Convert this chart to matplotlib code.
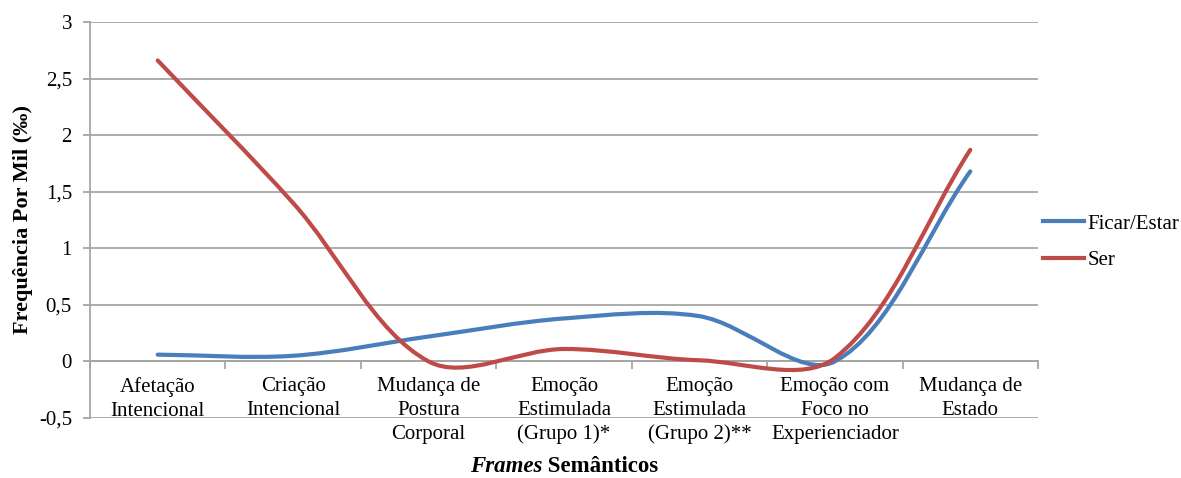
import matplotlib
matplotlib.use("Agg")
import matplotlib.pyplot as plt
import numpy as np
from matplotlib.path import Path
from matplotlib.patches import PathPatch
from matplotlib.lines import Line2D

plt.rcParams['font.family'] = ['Liberation Serif', 'DejaVu Serif']

# Data
categories = ['Afetação\nIntencional', 'Criação\nIntencional', 'Mudança de\nPostura\nCorporal',
              'Emoção\nEstimulada\n(Grupo 1)*', 'Emoção\nEstimulada\n(Grupo 2)**',
              'Emoção com\nFoco no\nExperienciador', 'Mudança de\nEstado']
ficar_estar = [0.06, 0.05, 0.22, 0.38, 0.40, 0.0, 1.68]
ser = [2.66, 1.40, 0.0, 0.11, 0.01, 0.03, 1.87]

blue = '#4A7EBB'
red = '#BE4B48'
grid_color = '#A6A6A6'

W, H = 1181, 478
X0, X1, Y0, Y1 = 90, 1038, 22, 418   # plot area in pixels


def smooth_path(xs, ys, sx, sy):
    # Excel-like smoothed line: cubic bezier, tangents scaled by chord lengths
    pts = np.column_stack([xs, ys]).astype(float)
    scale = np.array([sx, sy])
    n = len(pts)

    def dist(a, b):
        return np.hypot(*((a - b) * scale))

    verts = [pts[0]]
    codes = [Path.MOVETO]
    for i in range(n - 1):
        p0 = pts[i - 1] if i > 0 else pts[i]
        p3 = pts[i + 2] if i + 2 < n else pts[i + 1]
        d_prev = dist(p0, pts[i])
        d_cur = dist(pts[i], pts[i + 1])
        d_next = dist(pts[i + 1], p3)
        f1 = d_cur / (d_prev + d_cur) if d_prev + d_cur > 0 else 0.5
        f2 = d_cur / (d_cur + d_next) if d_cur + d_next > 0 else 0.5
        c1 = pts[i] + (pts[i + 1] - p0) * f1 / 3.0
        c2 = pts[i + 1] - (p3 - pts[i]) * f2 / 3.0
        verts += [c1, c2, pts[i + 1]]
        codes += [Path.CURVE4] * 3
    return Path(verts, codes)


fig = plt.figure(figsize=(W / 100, H / 100), dpi=100)
ax = fig.add_axes([X0 / W, 1 - Y1 / H, (X1 - X0) / W, (Y1 - Y0) / H])

ymin, ymax = -0.5, 3
x = np.arange(len(categories))
px_per_x = (X1 - X0) / len(categories)
px_per_y = (Y1 - Y0) / (ymax - ymin)
for vals, col in [(ficar_estar, blue), (ser, red)]:
    patch = PathPatch(smooth_path(x, vals, px_per_x, px_per_y), facecolor='none',
                      edgecolor=col, lw=3.0, capstyle='round', joinstyle='round', zorder=3)
    ax.add_patch(patch)

ax.set_xlim(-0.5, len(categories) - 0.5)
ax.set_ylim(ymin, ymax)
ax.set_yticks(np.arange(-0.5, 3.01, 0.5))
ax.set_yticklabels(['-0,5', '0', '0,5', '1', '1,5', '2', '2,5', '3'], fontsize=15)
ax.yaxis.grid(True, color=grid_color, lw=1.3)
ax.set_axisbelow(True)

for s in ['top', 'right']:
    ax.spines[s].set_visible(False)
ax.spines['left'].set_color(grid_color)
ax.spines['left'].set_linewidth(1.3)
ax.spines['bottom'].set_position(('data', 0))
ax.spines['bottom'].set_color(grid_color)
ax.spines['bottom'].set_linewidth(1.3)
ax.tick_params(axis='y', color=grid_color, length=5, width=1.3, pad=8)

ax.set_xticks(x)
ax.set_xticklabels(categories, fontsize=15, linespacing=1.35)
ax.set_xticks(np.arange(-0.5, len(categories), 1.0), minor=True)
ax.tick_params(axis='x', which='major', length=0, pad=11)
ax.tick_params(axis='x', which='minor', length=6, width=1.3, color=grid_color, direction='out')

ax.set_ylabel('Frequência Por Mil (‰)', fontsize=16, fontweight='bold', labelpad=4)

# x-axis title: "Frames" bold italic + "Semânticos" bold
t1 = fig.text(0, 1 - 467 / H, 'Frames', fontsize=16.5, fontweight='bold', style='italic',
              ha='left', va='center')
t2 = fig.text(0, 1 - 467 / H, ' Semânticos', fontsize=16.5, fontweight='bold',
              ha='left', va='center')
fig.canvas.draw()
r = fig.canvas.get_renderer()
w1 = t1.get_window_extent(r).width
w2 = t2.get_window_extent(r).width
cx = (X0 + X1) / 2
t1.set_x((cx - (w1 + w2) / 2) / W)
t2.set_x((cx - (w1 + w2) / 2 + w1) / W)

handles = [Line2D([], [], color=blue, lw=3), Line2D([], [], color=red, lw=3)]
fig.legend(handles, ['Ficar/Estar', 'Ser'], loc='center left',
           bbox_to_anchor=(1043 / W, 1 - 242 / H), frameon=False, borderpad=0,
           borderaxespad=0, fontsize=15, handlelength=1.95, handletextpad=0.2,
           labelspacing=0.8)

fig.savefig('out.png', dpi=100)
